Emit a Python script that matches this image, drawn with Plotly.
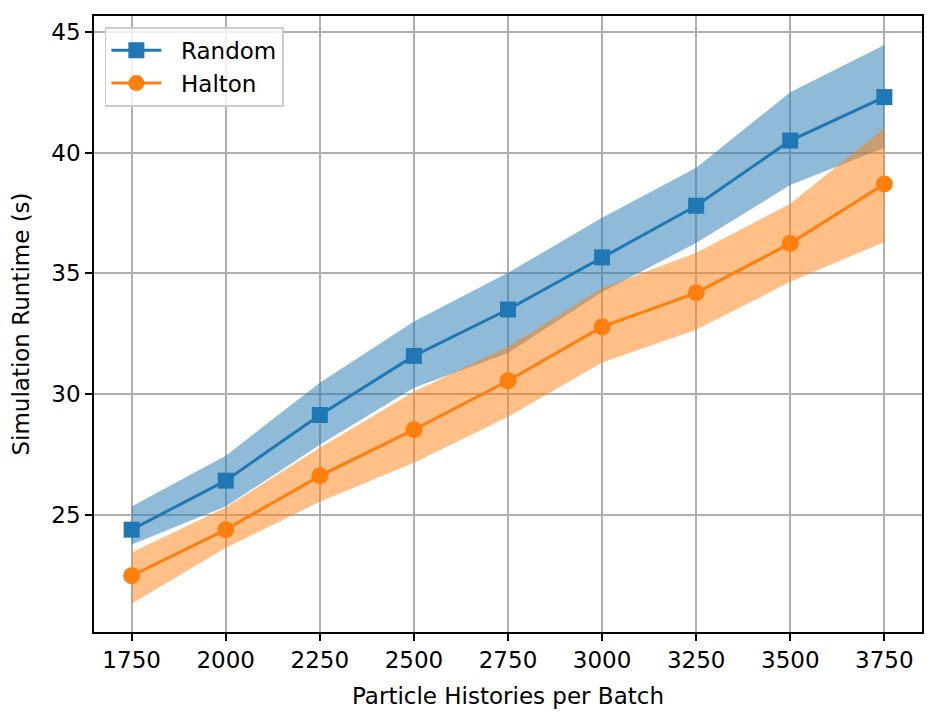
import plotly.graph_objects as go

batch_sizes = [1750, 2000, 2250, 2500, 2750, 3000, 3250, 3500, 3750]

random_mean = [24.38, 26.41, 29.13, 31.58, 33.5, 35.66, 37.8, 40.5, 42.3]
random_upper = [25.34, 27.44, 30.47, 33.0, 35.02, 37.3, 39.37, 42.5, 44.46]
random_lower = [23.76, 25.34, 27.9, 30.26, 31.7, 34.23, 36.26, 38.66, 40.2]

halton_mean = [22.47, 24.38, 26.61, 28.52, 30.55, 32.78, 34.19, 36.24, 38.7]
halton_upper = [23.43, 25.3, 27.77, 30.09, 31.96, 34.38, 35.85, 37.88, 41.02]
halton_lower = [21.31, 23.63, 25.54, 27.15, 29.06, 31.3, 32.66, 34.65, 36.3]

x_ticks = [1750, 2000, 2250, 2500, 2750, 3000, 3250, 3500, 3750]
y_ticks = [25, 30, 35, 40, 45]

BLUE = "#1f77b4"
ORANGE = "#ff7f0e"
FONT = "DejaVu Sans"
FS = 23
NB = "\u00a0\u00a0"

fig = go.Figure()


def band(x, lo, hi, color):
    return go.Scatter(
        x=list(x) + list(x)[::-1],
        y=list(hi) + list(lo)[::-1],
        fill="toself",
        fillcolor=color,
        line=dict(width=0),
        mode="lines",
        hoverinfo="skip",
        showlegend=False,
    )


fig.add_trace(band(batch_sizes, random_lower, random_upper, "rgba(31,119,180,0.5)"))
fig.add_trace(go.Scatter(
    x=batch_sizes, y=random_mean, mode="lines+markers", name=NB + "Random",
    line=dict(color=BLUE, width=3),
    marker=dict(symbol="square", size=16, color=BLUE),
))
fig.add_trace(band(batch_sizes, halton_lower, halton_upper, "rgba(255,127,14,0.5)"))
fig.add_trace(go.Scatter(
    x=batch_sizes, y=halton_mean, mode="lines+markers", name=NB + "Halton",
    line=dict(color=ORANGE, width=3),
    marker=dict(symbol="circle", size=17, color=ORANGE),
))

axis_common = dict(
    showgrid=True, gridcolor="#b0b0b0", gridwidth=1.6,
    showline=True, linecolor="black", linewidth=1.6, mirror=True,
    ticks="outside", ticklen=7, tickwidth=1.6, tickcolor="black",
    tickfont=dict(family=FONT, size=FS, color="black"),
    zeroline=False, automargin=False,
)

fig.update_xaxes(
    range=[1650, 3850], tickvals=x_ticks, ticktext=[str(v) for v in x_ticks],
    title=dict(text="Particle Histories per Batch", font=dict(family=FONT, size=FS, color="black")),
    **axis_common,
)
fig.update_yaxes(
    range=[20.14, 45.66], tickvals=y_ticks, ticktext=[str(v) for v in y_ticks],
    title=dict(text="Simulation Runtime (s)", font=dict(family=FONT, size=FS, color="black")),
    **axis_common,
)

fig.update_layout(
    width=938, height=720,
    margin=dict(l=94, r=16, t=16, b=88),
    plot_bgcolor="white", paper_bgcolor="white",
    font=dict(family=FONT, size=FS, color="black"),
    legend=dict(
        x=0.013, y=0.982, xanchor="left", yanchor="top",
        bgcolor="rgba(255,255,255,0.8)", bordercolor="#cccccc", borderwidth=1.6,
        font=dict(family=FONT, size=FS, color="black"),
        itemwidth=50,
    ),
)

fig.write_html(
    "out.html",
    config={"displayModeBar": False},
    post_script="document.body.style.margin='0';document.body.style.overflow='hidden';",
)
